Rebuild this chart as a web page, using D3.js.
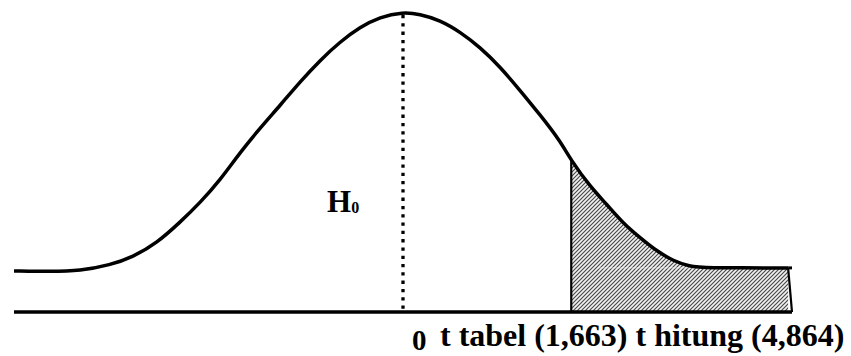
<!DOCTYPE html>
<html>
<head>
<meta charset="utf-8">
<script src="https://cdn.jsdelivr.net/npm/d3@7"></script>
<style>
    body { margin: 0; background: #fff; }
    svg { display: block; }
    text { font-family: "Liberation Serif", "Times New Roman", Times, serif; font-weight: bold; fill: #000; }
</style>
</head>
<body>
<div id="chart"></div>
<script>
// curve: t position and relative height
const curveT = [-4.00, -3.63, -3.32, -3.01, -2.78, -2.53, -2.29, -2.09, -1.88, -1.68, -1.47, -1.26,
    -1.06, -0.85, -0.65, -0.44, -0.24, 0.00, 0.17, 0.38, 0.59, 0.79, 1.00, 1.20, 1.41, 1.61, 1.73,
    1.92, 2.10, 2.26, 2.44, 2.61, 2.78, 2.95, 3.08, 3.96];
const curveH = [0.137, 0.135, 0.137, 0.157, 0.183, 0.230, 0.300, 0.363, 0.440, 0.530, 0.613, 0.690,
    0.767, 0.840, 0.900, 0.950, 0.983, 1.000, 0.993, 0.973, 0.933, 0.883, 0.817, 0.740, 0.657, 0.573, 0.505,
    0.420, 0.357, 0.297, 0.247, 0.203, 0.170, 0.152, 0.147, 0.147];

const shadeStart = 1.73;   // start of rejection area
const axisEnd = 4.0;
const zeroLabel = '0';
const bottomLabel = 't tabel (1,663) t hitung (4,864)';
const hLabel = 'H';
const hSub = '0';

const width = 851;
const height = 356;

const svg = d3.select('#chart')
    .append('svg')
    .attr('width', width)
    .attr('height', height);

const x = d3.scaleLinear().domain([-4, 4]).range([14, 792]);
const y = d3.scaleLinear().domain([0, 1]).range([312, 12]);

const points = curveT.map((t, i) => ({ t: t, h: curveH[i] }));

// hatch pattern for the shaded area
const pattern = svg.append('defs').append('pattern')
    .attr('id', 'hatch')
    .attr('patternUnits', 'userSpaceOnUse')
    .attr('width', 4)
    .attr('height', 4);
pattern.append('rect').attr('width', 4).attr('height', 4).attr('fill', '#f2f2f2');
pattern.append('path')
    .attr('d', 'M-1,1 l2,-2 M0,4 l4,-4 M3,5 l2,-2')
    .attr('stroke', '#4a4a4a')
    .attr('stroke-width', 1.2);

// shaded area under the right tail
const shadePts = points.filter(d => d.t >= shadeStart);
const area = d3.area()
    .x(d => x(d.t))
    .y0(y(0))
    .y1(d => y(d.h))
    .curve(d3.curveBasis);

svg.append('path')
    .datum(shadePts)
    .attr('d', area)
    .attr('fill', 'url(#hatch)');

// outline of the shaded block (left edge and slanted right edge)
const last = shadePts[shadePts.length - 1];
svg.append('line')
    .attr('x1', x(shadeStart)).attr('x2', x(shadeStart))
    .attr('y1', y(shadePts[0].h)).attr('y2', y(0))
    .attr('stroke', '#000').attr('stroke-width', 2.2);
svg.append('line')
    .attr('x1', x(last.t)).attr('x2', x(axisEnd))
    .attr('y1', y(last.h)).attr('y2', y(0))
    .attr('stroke', '#000').attr('stroke-width', 2.2);
svg.append('line')
    .attr('x1', x(2.0)).attr('x2', x(last.t))
    .attr('y1', y(last.h)).attr('y2', y(last.h))
    .attr('stroke', '#fff').attr('stroke-opacity', 0.55).attr('stroke-width', 1);

// baseline
svg.append('line')
    .attr('x1', x(-4)).attr('x2', x(axisEnd))
    .attr('y1', y(0)).attr('y2', y(0))
    .attr('stroke', '#000').attr('stroke-width', 3.5);

// bell curve
const line = d3.line()
    .x(d => x(d.t))
    .y(d => y(d.h))
    .curve(d3.curveBasis);

svg.append('path')
    .datum(points)
    .attr('d', line)
    .attr('fill', 'none')
    .attr('stroke', '#000')
    .attr('stroke-width', 3.5);

// small end tick on the flat right tail
svg.append('line')
    .attr('x1', x(last.t)).attr('x2', x(axisEnd))
    .attr('y1', y(last.h)).attr('y2', y(last.h))
    .attr('stroke', '#000').attr('stroke-width', 3);

// dotted centre line
svg.append('line')
    .attr('x1', x(0)).attr('x2', x(0))
    .attr('y1', y(0.99)).attr('y2', y(0))
    .attr('stroke', '#000')
    .attr('stroke-width', 3.3)
    .attr('stroke-dasharray', '3.3,5');

// H0 label
const h0 = svg.append('text')
    .attr('x', 327)
    .attr('y', 212)
    .style('font-size', '31px');
h0.append('tspan').text(hLabel);
h0.append('tspan').style('font-size', '16px').attr('dy', 1).text(hSub);

// bottom labels
svg.append('text')
    .attr('x', x(0) + 9)
    .attr('y', 350)
    .style('font-size', '29px')
    .text(zeroLabel);

svg.append('text')
    .attr('x', 440)
    .attr('y', 346)
    .style('font-size', '32px')
    .text(bottomLabel);
</script>
</body>
</html>
